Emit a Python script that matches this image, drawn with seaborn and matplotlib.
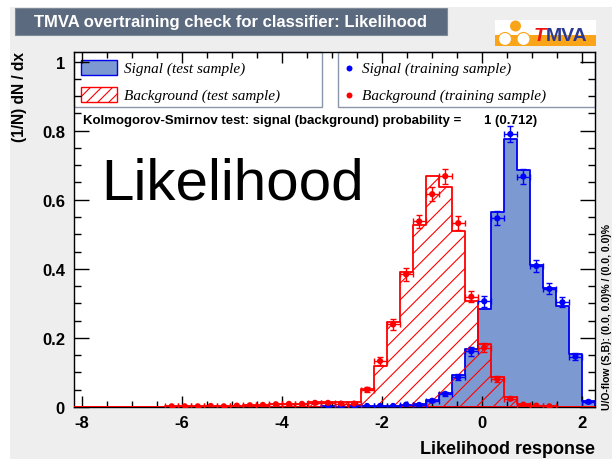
import numpy as np
import pandas as pd
import seaborn as sns
import matplotlib
matplotlib.use("Agg")
import matplotlib.pyplot as plt
from matplotlib.patches import Rectangle, Ellipse
from matplotlib.lines import Line2D
from matplotlib.ticker import MultipleLocator, FuncFormatter

# ---- histogram binning of the classifier response ----
x_min, x_max, n_bins = -8.15, 2.27, 40

# normalised test-sample histograms (1/N dN/dx), one value per bin
sig_test = [0, 0, 0, 0, 0, 0, 0, 0, 0, 0,
            0, 0, 0, 0, 0, 0, 0, 0, 0, 0.002,
            0.001, 0.002, 0.002, 0.003, 0.004, 0.006, 0.009, 0.020, 0.040, 0.092,
            0.167, 0.285, 0.565, 0.776, 0.686, 0.412, 0.343, 0.293, 0.152, 0.018]
bkg_test = [0, 0, 0, 0, 0, 0, 0, 0.002, 0.002, 0.003,
            0.003, 0.003, 0.004, 0.005, 0.007, 0.008, 0.010, 0.010, 0.014, 0.015,
            0.014, 0.014, 0.052, 0.120, 0.245, 0.392, 0.527, 0.668, 0.636, 0.510,
            0.308, 0.181, 0.086, 0.028, 0.009, 0.004, 0.002, 0.001, 0, 0]

# training-sample points and their statistical errors
sig_train = [0, 0, 0, 0, 0, 0, 0, 0, 0, 0,
             0, 0, 0, 0, 0, 0, 0, 0, 0, 0.002,
             0.001, 0.002, 0.003, 0.003, 0.003, 0.007, 0.006, 0.018, 0.038, 0.086,
             0.161, 0.306, 0.546, 0.790, 0.667, 0.408, 0.342, 0.303, 0.146, 0.015]
sig_err = [0, 0, 0, 0, 0, 0, 0, 0, 0, 0,
           0, 0, 0, 0, 0, 0, 0, 0, 0, 0.001,
           0.001, 0.001, 0.001, 0.001, 0.001, 0.002, 0.002, 0.004, 0.006, 0.009,
           0.012, 0.016, 0.020, 0.022, 0.021, 0.017, 0.016, 0.015, 0.011, 0.004]
bkg_train = [0, 0, 0, 0, 0, 0, 0, 0.002, 0.002, 0.002,
             0.003, 0.002, 0.004, 0.005, 0.006, 0.008, 0.009, 0.009, 0.012, 0.012,
             0.010, 0.010, 0.050, 0.133, 0.239, 0.384, 0.537, 0.616, 0.668, 0.532,
             0.319, 0.172, 0.081, 0.024, 0.007, 0.004, 0.002, 0, 0, 0]
bkg_err = [0, 0, 0, 0, 0, 0, 0, 0.001, 0.001, 0.001,
           0.001, 0.001, 0.002, 0.002, 0.002, 0.002, 0.003, 0.003, 0.003, 0.003,
           0.003, 0.003, 0.007, 0.011, 0.015, 0.018, 0.020, 0.021, 0.022, 0.020,
           0.016, 0.012, 0.008, 0.004, 0.002, 0.002, 0.001, 0, 0, 0]

ks_text = "Kolmogorov-Smirnov test: signal (background) probability ="
ks_values = "1 (0.712)"
title = "TMVA overtraining check for classifier: Likelihood"
method = "Likelihood"
xlabel = "Likelihood response"
ylabel = "(1/N) dN / dx"
flow_text = "U/O-flow (S,B): (0.0, 0.0)% / (0.0, 0.0)%"

# ---- style ----
sns.set_style("ticks")
plt.rcParams["font.family"] = ["Liberation Sans", "DejaVu Sans"]
plt.rcParams["text.color"] = "black"
plt.rcParams["xtick.color"] = "black"
plt.rcParams["ytick.color"] = "black"
plt.rcParams["hatch.color"] = "red"
plt.rcParams["hatch.linewidth"] = 0.8

W, H = 612, 460
SIG_FILL = "#7d99d1"
SIG_LINE = "#0000ee"
BKG_LINE = "#ff0000"
ORANGE = "#faa41a"

fig = plt.figure(figsize=(W / 100, H / 100), dpi=100, facecolor="white")


def fxy(px, py):
    return px / W, 1 - py / H


def frect(x0, y0, x1, y1, **kw):
    r = Rectangle((x0 / W, 1 - y1 / H), (x1 - x0) / W, (y1 - y0) / H,
                  transform=fig.transFigure, **kw)
    fig.patches.append(r)
    return r


def fcircle(cx, cy, r, **kw):
    e = Ellipse(fxy(cx, cy), 2 * r / W, 2 * r / H, transform=fig.transFigure, **kw)
    fig.patches.append(e)


# canvas background panel
frect(10, 8, W, H, facecolor="#eeeeee", edgecolor="none", zorder=-5)

# title box
frect(15, 9, 447, 36, facecolor="#5b6a7e", edgecolor="#7f8a99", lw=0.8, zorder=1)
fig.text(*fxy(231, 23), title, color="white", fontsize=12, fontweight="bold",
         ha="center", va="center")

# TMVA logo
frect(495, 21, 596, 36, facecolor="white", edgecolor="none", zorder=1)
frect(495, 36, 596, 47, facecolor=ORANGE, edgecolor="none", zorder=1)
fcircle(515.5, 27, 5.5, facecolor=ORANGE, edgecolor="none", zorder=2)
fcircle(505, 40, 6.5, facecolor="white", edgecolor=ORANGE, lw=0.8, zorder=2)
fcircle(523.5, 40, 6.5, facecolor="white", edgecolor=ORANGE, lw=0.8, zorder=2)
fig.text(*fxy(534, 40.7), "T", color="#ee1111", fontsize=14, fontweight="bold",
         fontstyle="italic", ha="left", va="baseline", zorder=3)
fig.text(*fxy(546, 40.7), "MVA", color="#2b3990", fontsize=14, fontweight="bold",
         ha="left", va="baseline", zorder=3)

# ---- main axes ----
AX_L, AX_R, AX_T, AX_B = 74, 595, 53, 408
ax = fig.add_axes([AX_L / W, (H - AX_B) / H, (AX_R - AX_L) / W, (AX_B - AX_T) / H])
ax.set_facecolor("white")

edges = np.linspace(x_min, x_max, n_bins + 1)
centers = 0.5 * (edges[:-1] + edges[1:])
half_w = 0.5 * (edges[1] - edges[0])

df = pd.DataFrame({"x": centers, "sig_test": sig_test, "bkg_test": bkg_test,
                   "sig_train": sig_train, "sig_err": sig_err,
                   "bkg_train": bkg_train, "bkg_err": bkg_err})

# signal test histogram (filled)
sns.histplot(data=df, x="x", weights="sig_test", bins=n_bins, binrange=(x_min, x_max),
             element="step", fill=True, color=SIG_FILL, facecolor=SIG_FILL,
             edgecolor=SIG_LINE, linewidth=1.3, alpha=1, ax=ax, zorder=2)
# background test histogram (hatched)
sns.histplot(data=df, x="x", weights="bkg_test", bins=n_bins, binrange=(x_min, x_max),
             element="step", fill=True, color=BKG_LINE, facecolor="none",
             edgecolor=BKG_LINE, linewidth=1.3, hatch="//", ax=ax, zorder=3)

# training points with errors
for col, err, color in [("sig_train", "sig_err", "blue"), ("bkg_train", "bkg_err", "red")]:
    d = df[df[col] > 0]
    ax.errorbar(d["x"], d[col], xerr=half_w, yerr=d[err], fmt="none",
                ecolor=color, elinewidth=1, capsize=2, capthick=1, zorder=4)
    sns.scatterplot(data=d, x="x", y=col, color=color, s=20, edgecolor="none",
                    legend=False, ax=ax, zorder=5)

ax.set_xlim(x_min, x_max)
ax.set_ylim(0, 1.0275)
ax.set_xlabel("")
ax.set_ylabel("")
ax.set_axisbelow(False)

ax.xaxis.set_major_locator(MultipleLocator(2))
ax.xaxis.set_minor_locator(MultipleLocator(0.5))
ax.yaxis.set_major_locator(MultipleLocator(0.2))
ax.yaxis.set_minor_locator(MultipleLocator(0.05))
ax.yaxis.set_major_formatter(FuncFormatter(lambda v, p: f"{v:g}"))
ax.xaxis.set_major_formatter(FuncFormatter(lambda v, p: f"{v:g}"))
ax.tick_params(axis="both", which="both", direction="in", top=True, right=True,
               color="black", labelcolor="black", width=1)
ax.tick_params(axis="x", which="major", length=8, pad=6)
ax.tick_params(axis="x", which="minor", length=4)
ax.tick_params(axis="y", which="major", length=10.5, pad=6.5)
ax.tick_params(axis="y", which="minor", length=5.3)
for lab in ax.get_xticklabels() + ax.get_yticklabels():
    lab.set_fontweight("bold")
    lab.set_fontsize(12)
for s in ax.spines.values():
    s.set_color("black")
    s.set_linewidth(1)


def axy(px, py):
    return (px - AX_L) / (AX_R - AX_L), (AX_B - py) / (AX_B - AX_T)


def arect(x0, y0, x1, y1, **kw):
    r = Rectangle(axy(x0, y1), (x1 - x0) / (AX_R - AX_L), (y1 - y0) / (AX_B - AX_T),
                  transform=ax.transAxes, clip_on=False, **kw)
    ax.add_patch(r)


# legend boxes
arect(74, 53, 322, 108, facecolor="white", edgecolor="#8a96aa", lw=1, zorder=2.2)
arect(338, 53, 595, 108, facecolor="white", edgecolor="#8a96aa", lw=1, zorder=2.2)
arect(81, 61, 117, 76, facecolor=SIG_FILL, edgecolor=SIG_LINE, lw=1, zorder=2.3)
arect(81, 88, 117, 103, facecolor="white", edgecolor=BKG_LINE, lw=1, hatch="///",
      zorder=2.3)
leg_font = dict(family=["Liberation Serif", "DejaVu Serif"], style="italic",
                size=11, va="center", ha="left", transform=ax.transAxes, zorder=2.4)
ax.text(*axy(124, 69), "Signal (test sample)", **leg_font)
ax.text(*axy(124, 96), "Background (test sample)", **leg_font)
ax.text(*axy(362, 69), "Signal (training sample)", **leg_font)
ax.text(*axy(362, 96), "Background (training sample)", **leg_font)
for py, color in [(69, "blue"), (96, "red")]:
    ax.add_line(Line2D([axy(349, py)[0]], [axy(349, py)[1]], marker="o", ms=4.3,
                       color=color, mec="none", transform=ax.transAxes,
                       clip_on=False, zorder=2.4))

# KS test result and method name
ax.text(*axy(83, 121), ks_text, fontsize=9.5, fontweight="bold", va="center",
        ha="left", transform=ax.transAxes)
ax.text(*axy(484, 121), ks_values, fontsize=9.5, fontweight="bold", va="center",
        ha="left", transform=ax.transAxes)
ax.text(*axy(101, 200), method, fontsize=42, va="baseline", ha="left",
        transform=ax.transAxes)

# axis titles and overflow note
fig.text(*fxy(19.5, 52), ylabel, rotation=90, fontsize=11.2, fontweight="bold",
         ha="center", va="top")
fig.text(*fxy(595, 454), xlabel, fontsize=13, fontweight="bold",
         ha="right", va="baseline")
fig.text(*fxy(607, 410), flow_text, rotation=90, fontsize=7.5, fontweight="bold",
         ha="center", va="bottom")

fig.savefig("out.png", dpi=100, facecolor=fig.get_facecolor())
